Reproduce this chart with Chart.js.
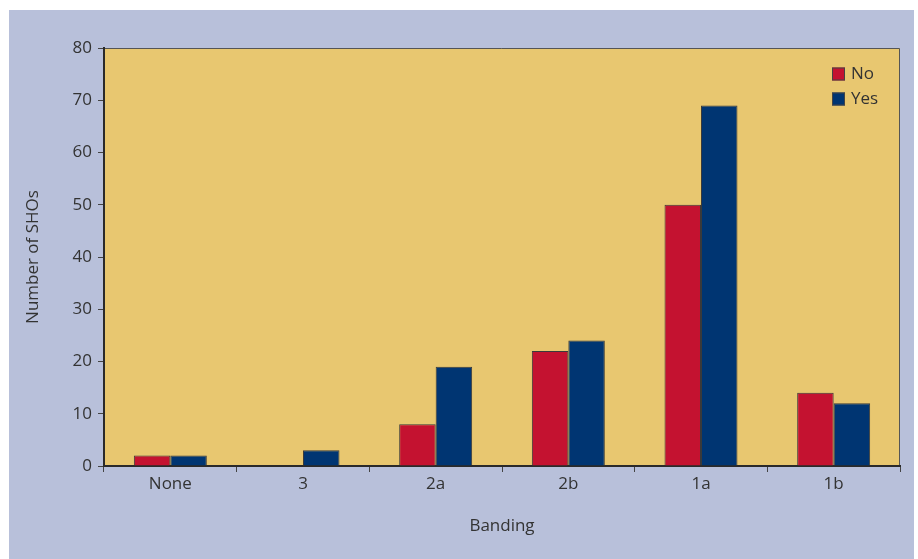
<!DOCTYPE html>
<html>
<head>
<meta charset="utf-8">
<script src="https://cdn.jsdelivr.net/npm/chart.js@4/dist/chart.umd.min.js"></script>
<style>
  html, body { margin: 0; padding: 0; background: #ffffff; }
  #wrap { position: relative; width: 918px; height: 559px; }
</style>
</head>
<body>
<div id="wrap"><canvas id="c" width="918" height="559"></canvas></div>
<script>
// Banding categories and counts of SHOs per answer
const categories = ['None', '3', '2a', '2b', '1a', '1b'];
const noValues = [2, 0, 8, 22, 50, 14];
const yesValues = [2, 3, 19, 24, 69, 12];
const seriesLabels = ['No', 'Yes'];
const yMax = 80;
const yStep = 10;

const FONT = "'Open Sans', sans-serif";
const TEXT = '#333333';

// Page panel, plot fill and frame
const panelPlugin = {
  id: 'panel',
  beforeDraw(chart) {
    const ctx = chart.ctx;
    const a = chart.chartArea;
    ctx.save();
    ctx.fillStyle = '#b8c0da';
    ctx.fillRect(9, 10, 905, 549);
    ctx.fillStyle = '#e8c770';
    ctx.fillRect(a.left, a.top, a.right - a.left, a.bottom - a.top);
    ctx.strokeStyle = '#555555';
    ctx.lineWidth = 1;
    ctx.beginPath();
    ctx.moveTo(a.left, a.top + 0.5);
    ctx.lineTo(a.right - 0.5, a.top + 0.5);
    ctx.lineTo(a.right - 0.5, a.bottom);
    ctx.stroke();
    ctx.restore();
  }
};

// Legend boxes in the upper right corner of the plot
const boxLegend = {
  id: 'boxLegend',
  afterDraw(chart) {
    const ctx = chart.ctx;
    const a = chart.chartArea;
    ctx.save();
    chart.data.datasets.forEach((ds, i) => {
      const x = a.right - 68;
      const y = a.top + 19.5 + i * 25;
      ctx.fillStyle = ds.backgroundColor;
      ctx.fillRect(x, y, 13, 13);
      ctx.strokeStyle = '#444444';
      ctx.lineWidth = 1;
      ctx.strokeRect(x + 0.5, y + 0.5, 12, 12);
      ctx.fillStyle = TEXT;
      ctx.font = '17px ' + FONT;
      ctx.textBaseline = 'middle';
      ctx.textAlign = 'left';
      ctx.fillText(ds.label, x + 19, y + 7);
    });
    ctx.restore();
  }
};

new Chart(document.getElementById('c'), {
  type: 'bar',
  data: {
    labels: categories,
    datasets: [
      {
        label: seriesLabels[0],
        data: noValues,
        backgroundColor: '#c41230',
        borderColor: '#3a3a3a',
        borderWidth: 1
      },
      {
        label: seriesLabels[1],
        data: yesValues,
        backgroundColor: '#003572',
        borderColor: '#3a3a3a',
        borderWidth: 1
      }
    ]
  },
  options: {
    responsive: false,
    animation: false,
    devicePixelRatio: 1,
    layout: { padding: { top: 48, right: 18, left: 0, bottom: 0 } },
    datasets: {
      bar: { categoryPercentage: 0.55, barPercentage: 1.0 }
    },
    plugins: {
      legend: { display: false },
      tooltip: { enabled: false }
    },
    scales: {
      x: {
        afterFit(scale) { scale.height = 93; },
        grid: {
          offset: true,
          drawOnChartArea: false,
          drawTicks: true,
          tickLength: 6,
          color: '#444444',
          lineWidth: 1
        },
        border: { display: true, color: '#2a2a2a', width: 2 },
        ticks: {
          color: TEXT,
          padding: 2,
          font: { family: FONT, size: 17 }
        },
        title: {
          display: true,
          text: 'Banding',
          color: TEXT,
          padding: { top: 0, bottom: 23 },
          font: { family: FONT, size: 17 }
        }
      },
      y: {
        min: 0,
        max: yMax,
        afterFit(scale) { scale.width = 104; },
        grid: {
          drawOnChartArea: false,
          drawTicks: true,
          tickLength: 6,
          color: '#444444',
          lineWidth: 1
        },
        border: { display: true, color: '#2a2a2a', width: 2 },
        ticks: {
          stepSize: yStep,
          color: TEXT,
          padding: 6,
          font: { family: FONT, size: 17 }
        },
        title: {
          display: true,
          text: 'Number of SHOs',
          color: TEXT,
          padding: { top: 23, bottom: 0 },
          font: { family: FONT, size: 17 }
        }
      }
    }
  },
  plugins: [panelPlugin, boxLegend]
});
</script>
</body>
</html>
